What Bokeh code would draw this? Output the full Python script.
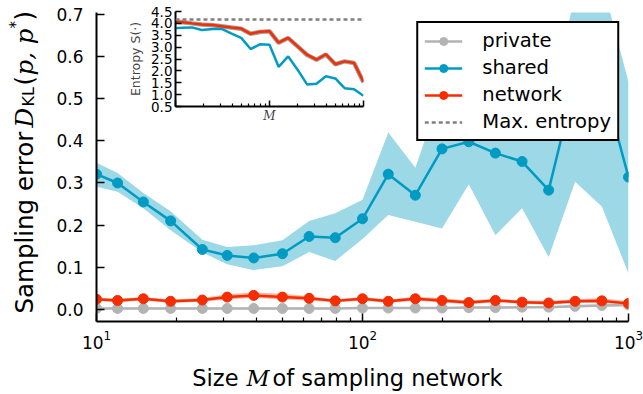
import math
from bokeh.plotting import figure
from bokeh.models import (Range1d, Label, Legend, LegendItem, FixedTicker,
                          CustomJSTickFormatter, PrintfTickFormatter, LogTickFormatter, Span)
from bokeh.embed import file_html
from bokeh.resources import INLINE

# ---------------- data ----------------
M = [10, 12, 15, 19, 25, 31, 39, 50, 63, 79, 100, 125, 158, 199, 251, 316, 398, 501, 630, 794, 1000]

private = [0.002, 0.002, 0.002, 0.002, 0.002, 0.002, 0.002, 0.002, 0.002, 0.002, 0.003,
           0.003, 0.003, 0.003, 0.004, 0.004, 0.005, 0.005, 0.007, 0.009, 0.010]
private_lo = [0.000, 0.000, 0.000, 0.000, 0.000, 0.000, 0.000, 0.000, 0.000, 0.000, 0.001,
              0.001, 0.001, 0.001, 0.002, 0.002, 0.003, 0.003, 0.004, 0.006, 0.007]
private_hi = [0.004, 0.004, 0.004, 0.004, 0.004, 0.004, 0.004, 0.004, 0.004, 0.004, 0.005,
              0.005, 0.005, 0.005, 0.006, 0.006, 0.007, 0.007, 0.010, 0.012, 0.013]

shared = [0.321, 0.300, 0.255, 0.210, 0.142, 0.128, 0.122, 0.132, 0.173, 0.170, 0.215,
          0.321, 0.271, 0.381, 0.398, 0.371, 0.351, 0.283, 0.540, 0.550, 0.314]
shared_lo = [0.291, 0.279, 0.240, 0.188, 0.135, 0.107, 0.093, 0.102, 0.136, 0.115, 0.167,
             0.224, 0.208, 0.192, 0.297, 0.176, 0.240, 0.124, 0.303, 0.244, 0.085]
shared_hi = [0.348, 0.324, 0.276, 0.233, 0.165, 0.148, 0.152, 0.164, 0.210, 0.228, 0.260,
             0.420, 0.336, 0.520, 0.560, 0.520, 0.500, 0.460, 0.750, 0.780, 0.540]

network = [0.024, 0.021, 0.025, 0.019, 0.022, 0.029, 0.033, 0.029, 0.026, 0.020, 0.025,
           0.019, 0.025, 0.021, 0.016, 0.021, 0.017, 0.015, 0.019, 0.020, 0.014]
network_lo = [0.020, 0.017, 0.021, 0.015, 0.018, 0.023, 0.027, 0.023, 0.021, 0.016, 0.021,
              0.015, 0.020, 0.016, 0.012, 0.017, 0.013, 0.011, 0.015, 0.015, 0.010]
network_hi = [0.028, 0.025, 0.029, 0.023, 0.027, 0.036, 0.040, 0.037, 0.031, 0.024, 0.029,
              0.023, 0.030, 0.026, 0.021, 0.025, 0.021, 0.020, 0.024, 0.026, 0.019]

# inset: entropy
ent_private = [4.08, 4.05, 4.00, 3.95, 3.92, 3.88, 3.83, 3.77, 3.56, 3.64, 3.67,
               3.18, 3.38, 3.03, 2.67, 2.47, 2.69, 2.28, 2.40, 2.33, 1.52]
ent_shared = [3.80, 3.82, 3.83, 3.72, 3.76, 3.77, 3.58, 3.39, 2.92, 3.12, 3.10,
              2.17, 2.61, 2.05, 1.43, 1.46, 1.77, 1.68, 1.27, 1.23, 0.95]
ent_network = [4.07, 4.05, 4.00, 3.95, 3.93, 3.88, 3.83, 3.78, 3.56, 3.65, 3.67,
               3.19, 3.39, 3.03, 2.68, 2.47, 2.70, 2.28, 2.40, 2.33, 1.53]
max_entropy = 4.16

y_ticks = [0.0, 0.1, 0.2, 0.3, 0.4, 0.5, 0.6, 0.7]
x_major_ticks = [10, 100, 1000]
x_minor_ticks = [20, 30, 40, 50, 60, 70, 80, 90, 200, 300, 400, 500, 600, 700, 800, 900]
inset_y_ticks = [0.5, 1.0, 1.5, 2.0, 2.5, 3.0, 3.5, 4.0, 4.5]

# ---------------- style ----------------
GRAY = "#b3b3b3"
BLUE = "#009bc3"
BLUE_BAND = "#9dd8e6"
RED = "#f52d00"
RED_BAND = "#f7a08c"
FONT = "DejaVu Sans"
SERIF = "DejaVu Serif"

FL, FB = 96, 321  # frame left / bottom in canvas px

p = figure(width=643, height=394, x_axis_type="log",
           x_range=Range1d(10, 1000), y_range=Range1d(-0.029, 0.705),
           output_backend="svg", toolbar_location=None,
           min_border_left=FL, min_border_right=15, min_border_top=12, min_border_bottom=394 - FB)
p.outline_line_color = None
p.grid.visible = False

p.varea(x=M, y1=private_lo, y2=private_hi, fill_color=GRAY, fill_alpha=0.5)
rp_l = p.line(M, private, line_color=GRAY, line_width=2.5)
rp_c = p.scatter(M, private, size=10, color=GRAY)

p.varea(x=M, y1=shared_lo, y2=shared_hi, fill_color=BLUE_BAND, fill_alpha=1.0)
rs_l = p.line(M, shared, line_color=BLUE, line_width=2.5)
rs_c = p.scatter(M, shared, size=10, color=BLUE)

p.varea(x=M, y1=network_lo, y2=network_hi, fill_color=RED_BAND, fill_alpha=0.8)
rn_l = p.line(M, network, line_color=RED, line_width=2.5)
rn_c = p.scatter(M, network, size=10, color=RED)

# max entropy lies far above this panel's range; drawn here only for the legend entry
rmax = p.line(x=[M[0], M[-1]], y=[max_entropy, max_entropy], line_color="#808080",
              line_width=2.5, line_dash="4 3")

for ax in (p.xaxis[0], p.yaxis[0]):
    ax.axis_line_width = 2
    ax.axis_line_color = "black"
    ax.major_tick_in = 8
    ax.major_tick_out = 0
    ax.major_tick_line_width = 1.5
    ax.minor_tick_in = 4
    ax.minor_tick_out = 0
    ax.minor_tick_line_width = 1.2
    ax.major_label_text_font = FONT
    ax.major_label_text_font_size = "17px"
    ax.major_label_text_color = "black"

p.xaxis[0].ticker = FixedTicker(ticks=x_major_ticks, minor_ticks=x_minor_ticks)
p.xaxis[0].formatter = LogTickFormatter()
p.xaxis[0].major_label_standoff = 8
p.yaxis[0].ticker = FixedTicker(ticks=y_ticks)
p.yaxis[0].formatter = PrintfTickFormatter(format="%.1f")
p.yaxis[0].major_label_standoff = 13
p.yaxis[0].minor_tick_in = 0

legend = Legend(items=[
    LegendItem(label="private", renderers=[rp_l, rp_c]),
    LegendItem(label="shared", renderers=[rs_l, rs_c]),
    LegendItem(label="network", renderers=[rn_l, rn_c]),
    LegendItem(label="Max. entropy", renderers=[rmax]),
], location="top_right")
legend.margin = 9
legend.padding = 6
legend.spacing = 4
legend.glyph_width = 38
legend.glyph_height = 20
legend.label_height = 20
legend.label_standoff = 20
legend.label_text_font = FONT
legend.label_text_font_size = "19.6px"
legend.label_text_color = "black"
legend.border_line_color = "black"
legend.border_line_alpha = 1.0
legend.border_line_width = 2.5
legend.background_fill_alpha = 1.0
p.add_layout(legend)

# ---------------- inset ----------------
q = figure(width=251, height=132, x_axis_type="log",
           x_range=Range1d(10, 1000), y_range=Range1d(0.5, 4.5),
           output_backend="svg", toolbar_location=None,
           min_border_left=57, min_border_right=6, min_border_top=9, min_border_bottom=28)
q.outline_line_color = None
q.grid.visible = False
q.styles = {"position": "absolute", "left": "118px", "top": "2px", "z-index": "5"}

q.add_layout(Span(location=max_entropy, dimension="width", line_color="#808080",
                  line_width=2.5, line_dash="4 3"))
q.line(M, ent_private, line_color="#a0a0a0", line_width=4.5)
q.line(M, ent_shared, line_color=BLUE, line_width=2.5)
q.line(M, ent_network, line_color=RED, line_width=2.5)

for ax in (q.xaxis[0], q.yaxis[0]):
    ax.axis_line_width = 2
    ax.axis_line_color = "black"
    ax.major_tick_in = 6
    ax.major_tick_out = 0
    ax.major_tick_line_width = 1.5
    ax.minor_tick_in = 3
    ax.minor_tick_out = 0
    ax.minor_tick_line_width = 1.2
    ax.major_label_text_font = FONT
    ax.major_label_text_font_size = "13.5px"
    ax.major_label_text_color = "black"

q.xaxis[0].ticker = FixedTicker(ticks=x_major_ticks, minor_ticks=x_minor_ticks)
q.xaxis[0].formatter = CustomJSTickFormatter(code="return ''")
q.xaxis[0].axis_label = "M"
q.xaxis[0].axis_label_text_font = SERIF
q.xaxis[0].axis_label_text_font_style = "italic"
q.xaxis[0].axis_label_text_font_size = "12px"
q.xaxis[0].axis_label_standoff = 2
q.yaxis[0].ticker = FixedTicker(ticks=inset_y_ticks)
q.yaxis[0].formatter = PrintfTickFormatter(format="%.1f")
q.yaxis[0].major_label_standoff = 3
q.yaxis[0].minor_tick_in = 0
q.yaxis[0].axis_label = "Entropy S(·)"
q.yaxis[0].axis_label_text_font = FONT
q.yaxis[0].axis_label_text_font_style = "normal"
q.yaxis[0].axis_label_text_font_size = "12.5px"
q.yaxis[0].axis_label_standoff = 5

# ---------------- overlay for the mixed-style axis titles ----------------
o = figure(width=643, height=394, x_range=Range1d(0, 643), y_range=Range1d(394, 0),
           output_backend="svg", toolbar_location=None,
           x_axis_location=None, y_axis_location=None,
           min_border_left=0, min_border_right=0, min_border_top=0, min_border_bottom=0)
o.outline_line_color = None
o.grid.visible = False
o.background_fill_alpha = 0
o.border_fill_alpha = 0
o.styles = {"position": "absolute", "left": "0px", "top": "0px", "z-index": "6",
            "pointer-events": "none"}


def lab(text, cx, cy, **kw):
    o.add_layout(Label(x=cx, y=cy, text=text, text_color="black",
                       text_baseline="alphabetic", **kw))


# x title: "Size M of sampling network"
XB = 377
lab("Size", 238, XB, text_font=FONT, text_font_size="22.5px", text_align="right")
lab("M", 246, XB, text_font=SERIF, text_font_style="italic", text_font_size="22.5px",
    text_align="left")
lab("of sampling network", 272, XB, text_font=FONT, text_font_size="22.5px",
    text_align="left")

# y title: "Sampling error D_KL(p, p*)"
R = math.pi / 2
YB = 24
lab("Sampling error", YB, 313, text_font=FONT, text_font_size="24.5px", angle=R,
    text_align="left")
lab("D", YB, 127, text_font=SERIF, text_font_style="italic", text_font_size="24.5px", angle=R,
    text_align="left")
lab("KL", YB + 4, 106, text_font=FONT, text_font_size="16px", angle=R,
    text_align="left")
lab("(", YB, 85, text_font=FONT, text_font_size="24.5px", angle=R,
    text_align="left")
lab("p, p", YB, 75, text_font=SERIF, text_font_style="italic", text_font_size="24.5px",
    angle=R, text_align="left")
lab("*", YB - 9, 28, text_font=FONT, text_font_size="15px", angle=R,
    text_align="left")
lab(")", YB, 20, text_font=FONT, text_font_size="24.5px", angle=R,
    text_align="left")

open("out.html", "w").write(file_html([p, q, o], INLINE))
